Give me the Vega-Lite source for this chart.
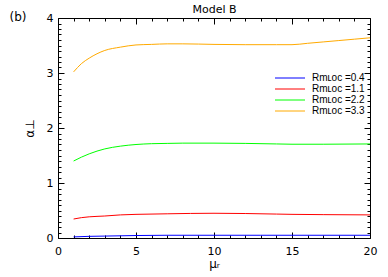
{
  "$schema": "https://vega.github.io/schema/vega-lite/v6.json",
  "width": 312,
  "height": 220,
  "autosize": "none",
  "padding": {"left": 58, "top": 18, "right": 18, "bottom": 39},
  "background": "white",
  "config": {
    "view": {"stroke": "black", "strokeWidth": 1},
    "font": "DejaVu Sans",
    "legend": {"padding": 0}
  },
  "data": {"values": [
    {"x": 1, "a": 0.02, "Rm": "0.4"}, {"x": 2, "a": 0.03, "Rm": "0.4"}, {"x": 3, "a": 0.035, "Rm": "0.4"}, {"x": 4, "a": 0.04, "Rm": "0.4"}, {"x": 5, "a": 0.045, "Rm": "0.4"}, {"x": 7, "a": 0.05, "Rm": "0.4"}, {"x": 10, "a": 0.05, "Rm": "0.4"}, {"x": 13, "a": 0.05, "Rm": "0.4"}, {"x": 15, "a": 0.05, "Rm": "0.4"}, {"x": 17, "a": 0.05, "Rm": "0.4"}, {"x": 20, "a": 0.05, "Rm": "0.4"},
    {"x": 1, "a": 0.345, "Rm": "1.1"}, {"x": 1.5, "a": 0.37, "Rm": "1.1"}, {"x": 2, "a": 0.385, "Rm": "1.1"}, {"x": 3, "a": 0.40, "Rm": "1.1"}, {"x": 4, "a": 0.42, "Rm": "1.1"}, {"x": 5, "a": 0.43, "Rm": "1.1"}, {"x": 7, "a": 0.44, "Rm": "1.1"}, {"x": 10, "a": 0.45, "Rm": "1.1"}, {"x": 12, "a": 0.445, "Rm": "1.1"}, {"x": 14, "a": 0.435, "Rm": "1.1"}, {"x": 15, "a": 0.43, "Rm": "1.1"}, {"x": 17, "a": 0.425, "Rm": "1.1"}, {"x": 20, "a": 0.42, "Rm": "1.1"},
    {"x": 1, "a": 1.40, "Rm": "2.2"}, {"x": 1.5, "a": 1.47, "Rm": "2.2"}, {"x": 2, "a": 1.53, "Rm": "2.2"}, {"x": 2.5, "a": 1.58, "Rm": "2.2"}, {"x": 3, "a": 1.62, "Rm": "2.2"}, {"x": 4, "a": 1.67, "Rm": "2.2"}, {"x": 5, "a": 1.70, "Rm": "2.2"}, {"x": 6, "a": 1.715, "Rm": "2.2"}, {"x": 7, "a": 1.72, "Rm": "2.2"}, {"x": 8, "a": 1.725, "Rm": "2.2"}, {"x": 10, "a": 1.725, "Rm": "2.2"}, {"x": 12, "a": 1.72, "Rm": "2.2"}, {"x": 14, "a": 1.71, "Rm": "2.2"}, {"x": 15, "a": 1.705, "Rm": "2.2"}, {"x": 17, "a": 1.705, "Rm": "2.2"}, {"x": 20, "a": 1.71, "Rm": "2.2"},
    {"x": 1, "a": 3.02, "Rm": "3.3"}, {"x": 1.5, "a": 3.17, "Rm": "3.3"}, {"x": 2, "a": 3.27, "Rm": "3.3"}, {"x": 2.5, "a": 3.35, "Rm": "3.3"}, {"x": 3, "a": 3.41, "Rm": "3.3"}, {"x": 4, "a": 3.47, "Rm": "3.3"}, {"x": 5, "a": 3.51, "Rm": "3.3"}, {"x": 6, "a": 3.52, "Rm": "3.3"}, {"x": 7, "a": 3.53, "Rm": "3.3"}, {"x": 8, "a": 3.53, "Rm": "3.3"}, {"x": 10, "a": 3.52, "Rm": "3.3"}, {"x": 12, "a": 3.515, "Rm": "3.3"}, {"x": 14, "a": 3.515, "Rm": "3.3"}, {"x": 15, "a": 3.515, "Rm": "3.3"}, {"x": 16, "a": 3.54, "Rm": "3.3"}, {"x": 17, "a": 3.565, "Rm": "3.3"}, {"x": 18, "a": 3.59, "Rm": "3.3"}, {"x": 19, "a": 3.615, "Rm": "3.3"}, {"x": 20, "a": 3.64, "Rm": "3.3"}
  ]},
  "layer": [
    {
      "mark": {"type": "line", "strokeWidth": 1, "interpolate": "monotone"},
      "encoding": {
        "x": {"field": "x", "type": "quantitative", "scale": {"domain": [0, 20], "nice": false},
          "axis": {"orient": "bottom", "values": [0, 5, 10, 15, 20], "grid": false, "ticks": false, "domain": false, "format": "d", "labelPadding": 7, "labelFont": "DejaVu Sans", "labelFontSize": 11, "labelColor": "black", "labelFlush": false,
            "title": "μᵣ", "titlePadding": 2, "titleFont": "DejaVu Sans", "titleFontSize": 12, "titleFontWeight": "normal", "titleColor": "black"}},
        "y": {"field": "a", "type": "quantitative", "scale": {"domain": [0, 4], "nice": false},
          "axis": {"orient": "left", "values": [0, 1, 2, 3, 4], "grid": false, "ticks": false, "domain": false, "format": "d", "labelPadding": 5, "labelFont": "DejaVu Sans", "labelFontSize": 11, "labelColor": "black", "labelFlush": false,
            "title": "α⊥", "titlePadding": 10, "titleFont": "DejaVu Sans", "titleFontSize": 12, "titleFontWeight": "normal", "titleColor": "black"}},
        "color": {"field": "Rm", "type": "nominal",
          "scale": {"domain": ["0.4", "1.1", "2.2", "3.3"], "range": ["#0000ff", "#ff0000", "#00ff00", "#ffaa00"]},
          "legend": {"orient": "none", "legendX": 227, "legendY": 55, "title": null, "symbolType": "M-5,0H5", "symbolSize": 36, "symbolStrokeWidth": 1, "labelFontSize": 10, "labelFont": "Liberation Sans", "labelColor": "black", "labelOffset": 17, "rowPadding": 1,
            "labelExpr": "'Rmʟᴏᴄ =' + datum.label"}}
      }
    },
    {
      "mark": {"type": "line", "strokeOpacity": 0},
      "encoding": {
        "detail": {"field": "Rm"},
        "x": {"field": "x", "type": "quantitative",
          "axis": {"orient": "bottom", "values": [0, 5, 10, 15, 20], "grid": false, "tickSize": -6, "tickColor": "black", "tickWidth": 1, "labels": false, "domain": false, "title": null}},
        "y": {"field": "a", "type": "quantitative",
          "axis": {"orient": "left", "values": [0, 1, 2, 3, 4], "grid": false, "tickSize": -6, "tickColor": "black", "tickWidth": 1, "labels": false, "domain": false, "title": null}}
      }
    },
    {
      "mark": {"type": "line", "strokeOpacity": 0},
      "encoding": {
        "detail": {"field": "Rm"},
        "x": {"field": "x", "type": "quantitative",
          "axis": {"orient": "bottom", "values": [1,2,3,4,6,7,8,9,11,12,13,14,16,17,18,19], "grid": false, "tickSize": -3, "tickColor": "black", "tickWidth": 1, "labels": false, "domain": false, "title": null}},
        "y": {"field": "a", "type": "quantitative",
          "axis": {"orient": "left", "values": [0.1,0.2,0.3,0.4,0.5,0.6,0.7,0.8,0.9,1.1,1.2,1.3,1.4,1.5,1.6,1.7,1.8,1.9,2.1,2.2,2.3,2.4,2.5,2.6,2.7,2.8,2.9,3.1,3.2,3.3,3.4,3.5,3.6,3.7,3.8,3.9], "grid": false, "tickSize": -3, "tickColor": "black", "tickWidth": 1, "labels": false, "domain": false, "title": null}}
      }
    },
    {
      "mark": {"type": "line", "strokeOpacity": 0},
      "encoding": {
        "detail": {"field": "Rm"},
        "x": {"field": "x", "type": "quantitative",
          "axis": {"orient": "top", "values": [0, 5, 10, 15, 20], "grid": false, "tickSize": -6, "tickColor": "black", "tickWidth": 1, "labels": false, "domain": false,
            "title": "Model B", "titleFont": "DejaVu Sans", "titleFontSize": 11, "titleFontWeight": "normal", "titleColor": "black", "titlePadding": 3}},
        "y": {"field": "a", "type": "quantitative",
          "axis": {"orient": "right", "values": [0, 1, 2, 3, 4], "grid": false, "tickSize": -6, "tickColor": "black", "tickWidth": 1, "labels": false, "domain": false,
            "title": "(b)", "titleAngle": 0, "titleX": -361, "titleY": -2, "titleAlign": "left", "titleBaseline": "middle", "titleFont": "DejaVu Sans", "titleFontSize": 12, "titleFontWeight": "normal", "titleColor": "black"}}
      }
    },
    {
      "mark": {"type": "line", "strokeOpacity": 0},
      "encoding": {
        "detail": {"field": "Rm"},
        "x": {"field": "x", "type": "quantitative",
          "axis": {"orient": "top", "values": [1,2,3,4,6,7,8,9,11,12,13,14,16,17,18,19], "grid": false, "tickSize": -3, "tickColor": "black", "tickWidth": 1, "labels": false, "domain": false, "title": null}},
        "y": {"field": "a", "type": "quantitative",
          "axis": {"orient": "right", "values": [0.1,0.2,0.3,0.4,0.5,0.6,0.7,0.8,0.9,1.1,1.2,1.3,1.4,1.5,1.6,1.7,1.8,1.9,2.1,2.2,2.3,2.4,2.5,2.6,2.7,2.8,2.9,3.1,3.2,3.3,3.4,3.5,3.6,3.7,3.8,3.9], "grid": false, "tickSize": -3, "tickColor": "black", "tickWidth": 1, "labels": false, "domain": false, "title": null}}
      }
    }
  ],
  "resolve": {"axis": {"x": "independent", "y": "independent"}}
}
